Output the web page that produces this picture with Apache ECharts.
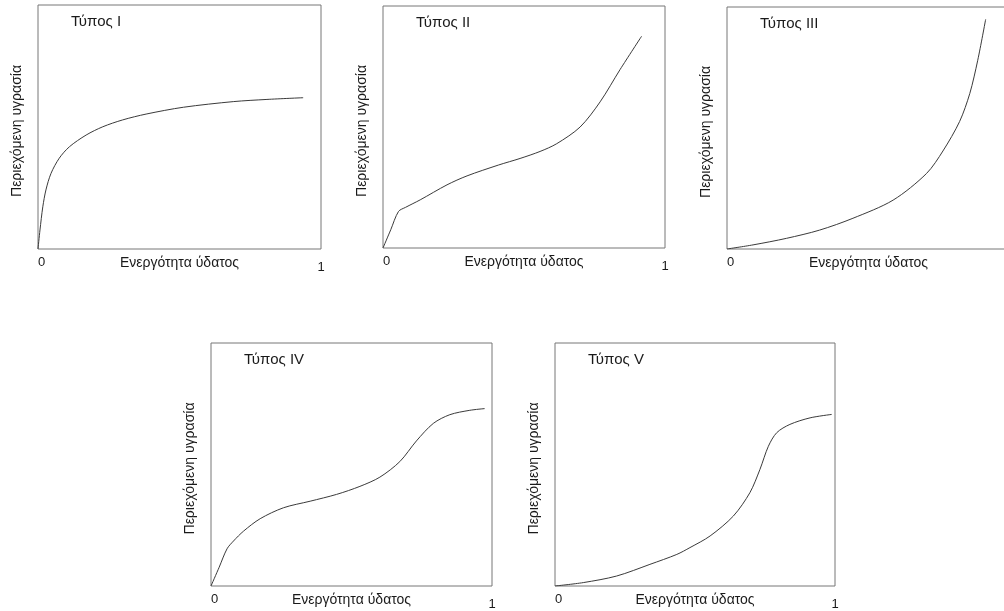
<!DOCTYPE html>
<html><head><meta charset="utf-8">
<script src="https://cdn.jsdelivr.net/npm/echarts@6/dist/echarts.min.js"></script>
<style>html,body{margin:0;padding:0;background:#fff}#c{width:1004px;height:611px}</style>
</head><body><div id="c"></div>
<script>
// ---- data (normalised water activity 0..1, relative moisture content 0..1) ----
const panelTitles = ['Τύπος I', 'Τύπος II', 'Τύπος III', 'Τύπος IV', 'Τύπος V'];
const xAxisName = 'Ενεργότητα ύδατος';
const yAxisName = 'Περιεχόμενη υγρασία';
const xTickLabels = ['0', '1'];

const typeI_x = [0, 0.007, 0.017, 0.028, 0.046, 0.075, 0.111, 0.17, 0.229, 0.299, 0.382, 0.514, 0.69, 0.809, 0.937];
const typeI_y = [0, 0.078, 0.173, 0.242, 0.31, 0.372, 0.419, 0.467, 0.501, 0.529, 0.553, 0.581, 0.604, 0.613, 0.62];

const typeII_x = [0, 0.0275, 0.055, 0.08, 0.132, 0.227, 0.298, 0.41, 0.486, 0.557, 0.616, 0.699, 0.77, 0.841, 0.917];
const typeII_y = [0, 0.0755, 0.151, 0.168, 0.199, 0.261, 0.298, 0.343, 0.37, 0.399, 0.431, 0.5, 0.604, 0.738, 0.875];

const typeIII_x = [0, 0.092, 0.21, 0.327, 0.445, 0.587, 0.705, 0.763, 0.822, 0.858, 0.886, 0.914];
const typeIII_y = [0, 0.017, 0.044, 0.078, 0.127, 0.202, 0.312, 0.405, 0.527, 0.643, 0.78, 0.949];

const typeIV_x = [0, 0.029, 0.057, 0.08, 0.116, 0.175, 0.258, 0.353, 0.447, 0.53, 0.601, 0.672, 0.731, 0.791, 0.85, 0.921, 0.974];
const typeIV_y = [0, 0.077, 0.153, 0.185, 0.226, 0.277, 0.322, 0.349, 0.377, 0.41, 0.448, 0.512, 0.597, 0.669, 0.705, 0.723, 0.73];

const typeV_x = [0, 0.101, 0.22, 0.339, 0.435, 0.482, 0.554, 0.637, 0.696, 0.732, 0.762, 0.792, 0.839, 0.911, 0.988];
const typeV_y = [0, 0.014, 0.041, 0.089, 0.13, 0.158, 0.206, 0.288, 0.384, 0.48, 0.575, 0.631, 0.665, 0.692, 0.706];

const seriesX = [typeI_x, typeII_x, typeIII_x, typeIV_x, typeV_x];
const seriesY = [typeI_y, typeII_y, typeIII_y, typeIV_y, typeV_y];

// ---- layout ----
const grids = [
  {left: 38,  top: 5,   width: 283, height: 244},
  {left: 383, top: 6,   width: 282, height: 242},
  {left: 727, top: 7,   width: 283, height: 242},
  {left: 211, top: 343, width: 281, height: 243},
  {left: 555, top: 343, width: 280, height: 243}
];
const FONT = "'Liberation Sans', Arial, sans-serif";
const TXT = '#1a1a1a';

const option = {
  animation: false,
  backgroundColor: '#ffffff',
  textStyle: {fontFamily: FONT},
  title: grids.map((g, i) => ({
    text: panelTitles[i],
    left: g.left + 33,
    top: g.top + 9,
    padding: 0,
    textStyle: {fontFamily: FONT, fontSize: 15, fontWeight: 'normal', color: TXT}
  })),
  grid: grids.map(g => ({
    left: g.left, top: g.top, width: g.width, height: g.height,
    show: true, borderColor: '#777777', borderWidth: 1, backgroundColor: 'transparent',
    containLabel: false, outerBoundsMode: 'none'
  })),
  xAxis: grids.map((g, i) => ({
    type: 'value', gridIndex: i, min: 0, max: 1, interval: 1,
    axisLine: {show: false}, axisTick: {show: false}, splitLine: {show: false},
    axisLabel: {
      show: true, margin: 7, showMinLabel: true, showMaxLabel: true,
      formatter: v => v === 0 ? '{a|' + xTickLabels[0] + '}' : '{b|' + xTickLabels[1] + '}',
      rich: {
        a: {fontFamily: FONT, fontSize: 13, color: TXT, padding: [0, 0, 0, 7]},
        b: {fontFamily: FONT, fontSize: 13, color: TXT, padding: [5, 0, 0, 0]}
      }
    },
    name: xAxisName, nameLocation: 'middle', nameGap: 7, nameMoveOverlap: false,
    nameTextStyle: {fontFamily: FONT, fontSize: 14, color: TXT}
  })),
  yAxis: grids.map((g, i) => ({
    type: 'value', gridIndex: i, min: 0, max: 1,
    axisLine: {show: false}, axisTick: {show: false}, splitLine: {show: false},
    axisLabel: {show: false},
    name: yAxisName, nameLocation: 'middle', nameGap: 14, nameMoveOverlap: false,
    nameTextStyle: {fontFamily: FONT, fontSize: 14, color: TXT, padding: [0, 8, 0, 0]}
  })),
  series: seriesX.map((xs, i) => ({
    type: 'line', xAxisIndex: i, yAxisIndex: i,
    data: xs.map((x, j) => [x, seriesY[i][j]]),
    showSymbol: false, symbol: 'none', smooth: 0.3,
    lineStyle: {color: '#3a3a3a', width: 1},
    silent: true
  }))
};

const chart = echarts.init(document.getElementById('c'), null, {renderer: 'canvas'});
chart.setOption(option);
</script>
</body></html>
